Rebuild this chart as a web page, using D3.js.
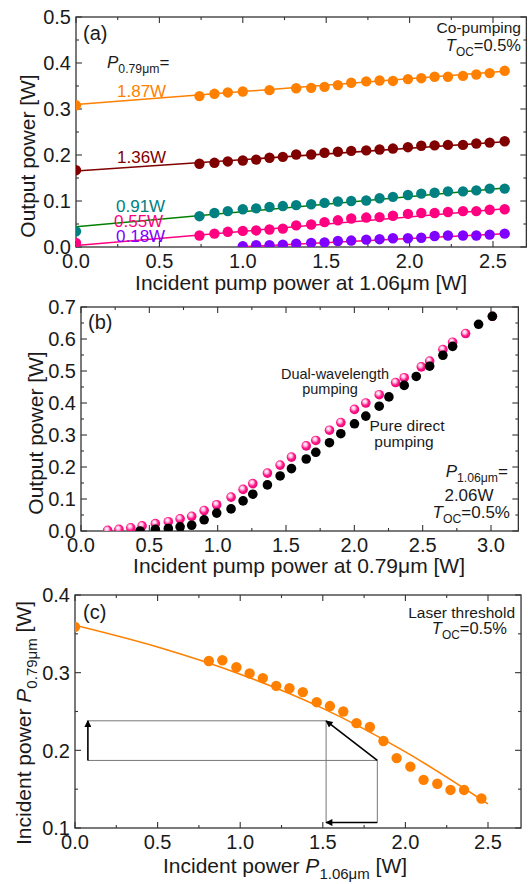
<!DOCTYPE html>
<html lang="en">
<head>
  <meta charset="UTF-8">
  <script src="https://d3js.org/d3.v7.min.js"></script>
  <title>Dual-wavelength pumping</title>
  <style>
    body { margin: 0; background: #fff; }
    svg text { font-family: "Liberation Sans", Arial, sans-serif; fill: #1a1a1a; }
    .frame { fill: none; stroke: #333; stroke-width: 1.3px; }
    .tick { stroke: #333; stroke-width: 1.1px; }
    .ticklabel { font-size: 20px; }
    .title { font-size: 21px; }
  </style>
</head>
<body>
<svg id="chart" width="528" height="884"></svg>
<script>
  // ---------- panel (a): output vs 1.06um pump, five 0.79um pump levels ----------
  const xA = [0.74, 0.83, 0.91, 1.0, 1.08, 1.16, 1.24, 1.32, 1.41, 1.49, 1.57, 1.65,
              1.74, 1.82, 1.9, 1.99, 2.07, 2.15, 2.23, 2.32, 2.4, 2.48, 2.57];
  const levelLabels = ["1.87W", "1.36W", "0.91W", "0.55W", "0.18W"];
  const levelColors = ["#ff8000", "#800000", "#008080", "#ff0080", "#8000ff"];
  const lineColors = ["#ff8000", "#800000", "#008000", "#ff0080", "#ff0080"];
  const startValues = [0.308, 0.167, 0.034, 0.009, null];   // points at x = 0
  const out187 = [0.328, 0.333, 0.336, 0.338, null, 0.341, null, 0.345, 0.346, 0.348, 0.352, 0.357,
                  0.360, 0.362, 0.361, 0.365, 0.367, 0.370, 0.370, 0.372, 0.375, 0.378, 0.383];
  const out136 = [0.181, 0.183, 0.186, 0.188, 0.190, 0.194, 0.196, 0.201, 0.201, 0.205, 0.207, 0.209,
                  0.210, 0.212, 0.214, 0.217, 0.220, 0.221, 0.222, 0.222, 0.225, 0.227, 0.230];
  const out091 = [0.067, 0.074, 0.078, 0.082, 0.084, 0.087, 0.089, 0.091, 0.093, 0.096, 0.099, 0.100,
                  0.101, 0.106, 0.109, 0.113, 0.116, 0.118, 0.121, 0.121, 0.123, 0.127, 0.127];
  const out055 = [0.025, 0.029, 0.033, 0.035, 0.036, 0.038, 0.040, 0.047, 0.049, 0.054, 0.058, 0.062,
                  0.064, 0.065, 0.068, 0.072, 0.074, 0.074, 0.076, 0.078, 0.078, 0.081, 0.082];
  const out018 = [null, null, null, 0.002, 0.004, 0.004, 0.005, 0.007, 0.009, 0.010, 0.013, 0.014,
                  0.016, 0.017, 0.019, 0.019, 0.020, 0.024, 0.025, 0.025, 0.025, 0.027, 0.029];
  // linear fits: [x start, y start, x end, y end]
  const fitLines = [[0, 0.310, 2.57, 0.382], [0, 0.165, 2.57, 0.229], [0, 0.044, 2.57, 0.128],
                    [0, 0.003, 2.57, 0.083], [0.97, 0.0, 2.57, 0.029]];

  // ---------- panel (b): output vs 0.79um pump ----------
  const dualX = [0.195, 0.278, 0.364, 0.447, 0.544, 0.639, 0.725, 0.81, 0.901, 0.993, 1.098, 1.186,
                 1.257, 1.364, 1.457, 1.54, 1.648, 1.718, 1.818, 1.901, 2.001, 2.084, 2.182, 2.302,
                 2.365, 2.49, 2.551, 2.648, 2.719, 2.814, 3.01];
  const dualY = [0.002, 0.005, 0.010, 0.016, 0.023, 0.029, 0.038, 0.046, 0.064, 0.082, 0.106, 0.130,
                 0.148, 0.181, 0.206, 0.231, 0.266, 0.283, 0.315, 0.339, 0.380, 0.400, 0.426, 0.464,
                 0.479, 0.513, 0.531, 0.567, 0.590, 0.617, 0.671];
  const pureX = [0.432, 0.544, 0.639, 0.725, 0.81, 0.901, 0.993, 1.098, 1.186, 1.257, 1.364, 1.457,
                 1.54, 1.648, 1.718, 1.818, 1.901, 2.001, 2.084, 2.182, 2.253, 2.365, 2.453, 2.551,
                 2.648, 2.719, 2.909, 3.01];
  const pureY = [0.0, 0.005, 0.008, 0.013, 0.018, 0.035, 0.056, 0.069, 0.094, 0.115, 0.144, 0.172,
                 0.195, 0.225, 0.246, 0.276, 0.304, 0.335, 0.359, 0.390, 0.419, 0.455, 0.483, 0.515,
                 0.549, 0.577, 0.646, 0.671];

  // ---------- panel (c): laser threshold ----------
  const thrX = [0, 0.81, 0.892, 0.977, 1.057, 1.137, 1.218, 1.298, 1.379, 1.463, 1.543, 1.624,
                1.704, 1.785, 1.867, 1.947, 2.03, 2.11, 2.193, 2.273, 2.355, 2.46];
  const thrY = [0.359, 0.315, 0.316, 0.307, 0.299, 0.293, 0.283, 0.280, 0.275, 0.262, 0.257, 0.250,
                0.235, 0.230, 0.212, 0.190, 0.179, 0.162, 0.157, 0.149, 0.149, 0.138];
  const modelX = [0, 0.5, 1.0, 1.5, 2.0, 2.5];
  const modelY = [0.361, 0.333, 0.298, 0.254, 0.198, 0.131];
  const boxX = [0.078, 1.52, 1.83];   // guide rectangle corners
  const boxY = [0.238, 0.187, 0.107];

  const svg = d3.select("#chart");
  const defs = svg.append("defs");

  const grad = defs.append("radialGradient").attr("id", "pinkBall")
    .attr("cx", "45%").attr("cy", "45%").attr("r", "60%").attr("fx", "38%").attr("fy", "32%");
  grad.append("stop").attr("offset", "0%").attr("stop-color", "#ffffff");
  grad.append("stop").attr("offset", "30%").attr("stop-color", "#ffc0df");
  grad.append("stop").attr("offset", "60%").attr("stop-color", "#ff1a8c");
  grad.append("stop").attr("offset", "100%").attr("stop-color", "#e6006e");

  defs.append("marker").attr("id", "arrow").attr("viewBox", "0 0 10 10")
    .attr("refX", 9).attr("refY", 5).attr("markerWidth", 9).attr("markerHeight", 7)
    .attr("markerUnits", "userSpaceOnUse").attr("orient", "auto")
    .append("path").attr("d", "M0,0L10,5L0,10Z").attr("fill", "#000");

  // frame with inward ticks on all four sides
  function frame(g, x, y, xMajor, yMajor, xMinor, yMinor, id) {
    const [x0, x1] = x.range();
    const [y0, y1] = y.range();
    defs.append("clipPath").attr("id", id).append("rect")
      .attr("x", x0).attr("y", y1).attr("width", x1 - x0).attr("height", y0 - y1);

    const tk = g.append("g");
    xMinor.forEach(v => {
      const big = xMajor.includes(v) ? 6 : 3;
      tk.append("line").attr("class", "tick").attr("x1", x(v)).attr("x2", x(v)).attr("y1", y0).attr("y2", y0 - big);
      tk.append("line").attr("class", "tick").attr("x1", x(v)).attr("x2", x(v)).attr("y1", y1).attr("y2", y1 + big);
    });
    yMinor.forEach(v => {
      const big = yMajor.includes(v) ? 6 : 3;
      tk.append("line").attr("class", "tick").attr("y1", y(v)).attr("y2", y(v)).attr("x1", x0).attr("x2", x0 + big);
      tk.append("line").attr("class", "tick").attr("y1", y(v)).attr("y2", y(v)).attr("x1", x1).attr("x2", x1 - big);
    });
    g.append("rect").attr("class", "frame")
      .attr("x", x0).attr("y", y1).attr("width", x1 - x0).attr("height", y0 - y1);

    g.selectAll(null).data(xMajor).join("text").attr("class", "ticklabel")
      .attr("x", d => x(d)).attr("y", y0 + 21).attr("text-anchor", "middle").text(d => d.toFixed(1));
    g.selectAll(null).data(yMajor).join("text").attr("class", "ticklabel")
      .attr("x", x0 - 5).attr("y", d => y(d)).attr("dy", "0.36em").attr("text-anchor", "end")
      .text(d => d.toFixed(1));
  }

  function steps(a, b, s) {
    const out = [];
    for (let i = 0; a + i * s <= b + 1e-9; i++) out.push(+(a + i * s).toFixed(3));
    return out;
  }

  // text with italic symbol + subscript
  function symText(g, x, y, size, anchor, sym, sub, rest) {
    const t = g.append("text").attr("x", x).attr("y", y).attr("text-anchor", anchor)
      .style("font-size", size + "px");
    t.append("tspan").attr("font-style", "italic").text(sym);
    t.append("tspan").attr("dy", size * 0.28).style("font-size", (size * 0.72) + "px").text(sub);
    t.append("tspan").attr("dy", -size * 0.28).text(rest);
    return t;
  }

  function axisTitle(g, transform, pre, sym, sub, post) {
    const t = g.append("text").attr("class", "title").attr("transform", transform).attr("text-anchor", "middle");
    t.append("tspan").text(pre);
    if (sym) {
      t.append("tspan").attr("font-style", "italic").text(sym);
      t.append("tspan").attr("dy", 6).style("font-size", "15px").text(sub);
      t.append("tspan").attr("dy", -6).text(post);
    }
  }

  // ===== panel (a) =====
  {
    const xa = d3.scaleLinear().domain([0, 2.7]).range([76, 76 + 2.7 * 166.8]);
    const ya = d3.scaleLinear().domain([0, 0.5]).range([247, 17]);
    const g = svg.append("g");
    frame(g, xa, ya, steps(0, 2.5, 0.5), steps(0, 0.5, 0.1), steps(0, 2.5, 0.25), steps(0, 0.5, 0.05), "clipA");

    const plot = g.append("g").attr("clip-path", "url(#clipA)");
    const series = [out187, out136, out091, out055, out018];
    fitLines.forEach((f, i) => {
      plot.append("line").attr("x1", xa(f[0])).attr("y1", ya(f[1])).attr("x2", xa(f[2])).attr("y2", ya(f[3]))
        .attr("stroke", lineColors[i]).attr("stroke-width", 1.5);
    });
    series.forEach((s, i) => {
      const pts = xA.map((x, j) => [x, s[j]]).filter(p => p[1] !== null);
      if (startValues[i] !== null) pts.unshift([0, startValues[i]]);
      plot.selectAll(null).data(pts).join("circle")
        .attr("cx", d => xa(d[0])).attr("cy", d => ya(d[1])).attr("r", 5.2)
        .attr("fill", levelColors[i]);
    });

    g.append("text").attr("x", 83).attr("y", 40).style("font-size", "20px").text("(a)");
    symText(g, 107, 68, 17, "start", "P", "0.79μm", "=");
    const labY = [97, 163, 212, 227, 242];
    const labX = [117, 117, 116, 114, 116];
    levelLabels.forEach((l, i) => {
      g.append("text").attr("x", labX[i]).attr("y", labY[i]).style("font-size", "17px")
        .style("fill", levelColors[i]).text(l);
    });
    g.append("text").attr("x", 521).attr("y", 33).attr("text-anchor", "end").style("font-size", "15.5px").text("Co-pumping");
    symText(g, 521, 51, 16.5, "end", "T", "OC", "=0.5%");

    axisTitle(g, "translate(301,290)", "Incident pump power at 1.06μm [W]");
    axisTitle(g, "translate(35,156) rotate(-90)", "Output power [W]");
  }

  // ===== panel (b) =====
  {
    const xb = d3.scaleLinear().domain([0, 3.2]).range([81, 81 + 3.2 * 136.67]);
    const yb = d3.scaleLinear().domain([0, 0.7]).range([531, 307]);
    const g = svg.append("g");
    frame(g, xb, yb, steps(0, 3.0, 0.5), steps(0, 0.7, 0.1), steps(0, 3.0, 0.25), steps(0, 0.7, 0.05), "clipB");

    const plot = g.append("g").attr("clip-path", "url(#clipB)");
    plot.selectAll(null).data(d3.zip(dualX, dualY)).join("circle")
      .attr("cx", d => xb(d[0])).attr("cy", d => yb(d[1])).attr("r", 4.8)
      .attr("fill", "url(#pinkBall)");
    plot.selectAll(null).data(d3.zip(pureX, pureY)).join("circle")
      .attr("cx", d => xb(d[0])).attr("cy", d => yb(d[1])).attr("r", 4.8)
      .attr("fill", "#000");

    g.append("text").attr("x", 88).attr("y", 329).style("font-size", "20px").text("(b)");
    g.append("text").attr("x", 335).attr("y", 379).attr("text-anchor", "middle").style("font-size", "14.5px").text("Dual-wavelength");
    g.append("text").attr("x", 330).attr("y", 394).attr("text-anchor", "middle").style("font-size", "14.5px").text("pumping");
    g.append("text").attr("x", 407).attr("y", 431).attr("text-anchor", "middle").style("font-size", "15.5px").text("Pure direct");
    g.append("text").attr("x", 404).attr("y", 447).attr("text-anchor", "middle").style("font-size", "15.5px").text("pumping");
    symText(g, 508, 477, 17, "end", "P", "1.06μm", "=");
    g.append("text").attr("x", 469).attr("y", 501).attr("text-anchor", "middle").style("font-size", "17px").text("2.06W");
    symText(g, 510, 518, 17, "end", "T", "OC", "=0.5%");

    axisTitle(g, "translate(299,573)", "Incident pump power at 0.79μm [W]");
    axisTitle(g, "translate(43,433) rotate(-90)", "Output power [W]");
  }

  // ===== panel (c) =====
  {
    const xc = d3.scaleLinear().domain([0, 2.7]).range([75, 75 + 2.7 * 165.2]);
    const yc = d3.scaleLinear().domain([0.1, 0.4]).range([828, 595]);
    const g = svg.append("g");
    frame(g, xc, yc, steps(0, 2.5, 0.5), steps(0.1, 0.4, 0.1), steps(0, 2.5, 0.25), steps(0.1, 0.4, 0.05), "clipC");

    const plot = g.append("g").attr("clip-path", "url(#clipC)");
    const guide = "#777";
    // guide rectangle
    plot.append("line").attr("x1", xc(boxX[0])).attr("x2", xc(boxX[1])).attr("y1", yc(boxY[0])).attr("y2", yc(boxY[0])).attr("stroke", guide);
    plot.append("line").attr("x1", xc(boxX[0])).attr("x2", xc(boxX[2])).attr("y1", yc(boxY[1])).attr("y2", yc(boxY[1])).attr("stroke", guide);
    plot.append("line").attr("x1", xc(boxX[1])).attr("x2", xc(boxX[1])).attr("y1", yc(boxY[0])).attr("y2", yc(boxY[2])).attr("stroke", guide);
    plot.append("line").attr("x1", xc(boxX[2])).attr("x2", xc(boxX[2])).attr("y1", yc(boxY[1])).attr("y2", yc(boxY[2])).attr("stroke", guide);
    // arrows
    const arrows = [[boxX[0], boxY[1], boxX[0], boxY[0]], [boxX[2], boxY[1], boxX[1], boxY[0]],
                    [boxX[2], boxY[2], boxX[1], boxY[2]]];
    arrows.forEach(a => {
      plot.append("line").attr("x1", xc(a[0])).attr("y1", yc(a[1])).attr("x2", xc(a[2])).attr("y2", yc(a[3]))
        .attr("stroke", "#000").attr("stroke-width", 1.6).attr("marker-end", "url(#arrow)");
    });

    plot.append("path").datum(d3.zip(modelX, modelY))
      .attr("d", d3.line().x(d => xc(d[0])).y(d => yc(d[1])).curve(d3.curveCatmullRom))
      .attr("fill", "none").attr("stroke", "#ff8000").attr("stroke-width", 1.6);
    plot.selectAll(null).data(d3.zip(thrX, thrY)).join("circle")
      .attr("cx", d => xc(d[0])).attr("cy", d => yc(d[1])).attr("r", 5.2)
      .attr("fill", "#ff8000");

    g.append("text").attr("x", 83).attr("y", 619).style("font-size", "20px").text("(c)");
    g.append("text").attr("x", 515).attr("y", 618).attr("text-anchor", "end").style("font-size", "15.5px").text("Laser threshold");
    symText(g, 507, 634, 16.5, "end", "T", "OC", "=0.5%");

    axisTitle(g, "translate(285,873)", "Incident power ", "P", "1.06μm", " [W]");
    axisTitle(g, "translate(31,723) rotate(-90)", "Incident power ", "P", "0.79μm", " [W]");
  }
</script>
</body>
</html>
